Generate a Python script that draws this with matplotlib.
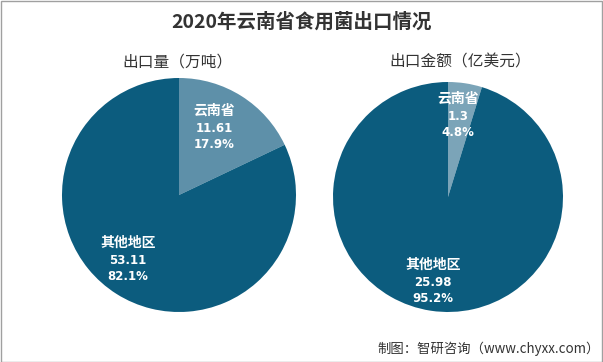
import matplotlib
matplotlib.use("Agg")
import matplotlib.pyplot as plt
from matplotlib.patches import Rectangle

plt.rcParams['font.family'] = ['Noto Sans CJK SC', 'DejaVu Sans']

title = "2020年云南省食用菌出口情况"
categories = ["云南省", "其他地区"]
volume = [11.61, 53.11]
volume_pct = ["17.9%", "82.1%"]
value = [1.3, 25.98]
value_pct = ["4.8%", "95.2%"]
subtitles = ["出口量（万吨）", "出口金额（亿美元）"]
source = "制图：智研咨询（www.chyxx.com）"

dark = "#0c5c7e"
W, H = 603, 362
fig = plt.figure(figsize=(W / 100, H / 100), dpi=100)
fig.patch.set_facecolor("white")

def add_pie(cx, cy, r, vals, pcts, label_pos, sub, sub_x, light):
    ax = fig.add_axes([(cx - r) / W, (H - cy - r) / H, 2 * r / W, 2 * r / H])
    ax.pie(vals, colors=[light, dark], startangle=90, counterclock=False, radius=1,
           wedgeprops=dict(linewidth=0))
    ax.set_xlim(-1, 1); ax.set_ylim(-1, 1)
    ax.set_aspect("auto")
    ax.axis("off")
    for cat, v, p, (lx, ly) in zip(categories, vals, pcts, label_pos):
        fx = lx / W; fy = 1 - ly / H
        fig.text(fx, fy, cat, color="white", fontsize=10, fontweight="bold",
                 ha="center", va="center", zorder=10)
        fig.text(fx, fy - 17 / H, f"{v:g}", color="white", fontsize=8.5, fontweight="bold",
                 ha="center", va="center", family="DejaVu Sans", zorder=10)
        fig.text(fx, fy - 33 / H, p, color="white", fontsize=8.5, fontweight="bold",
                 ha="center", va="center", family="DejaVu Sans", zorder=10)
    fig.text(sub_x / W, 1 - 62 / H, sub, fontsize=11.3, color="#333333", ha="center", va="center")

add_pie(179, 195, 117, volume, volume_pct, [(214, 111), (128, 243)], subtitles[0], 178, "#5e90a9")
add_pie(448, 197, 115, value, value_pct, [(458, 99), (433, 265)], subtitles[1], 460, "#7ba4b8")

fig.text(0.5, 1 - 22 / H, title, fontsize=14, fontweight="bold", color="#333333",
         ha="center", va="center")
fig.text(600 / W, 1 - 349 / H, source, fontsize=9.6, color="#333333", ha="right", va="center")

fig.add_artist(Rectangle((0.5 / W, 0.5 / H), 1 - 1.5 / W, 1 - 1.5 / H, transform=fig.transFigure,
                         fill=False, edgecolor="#a0a0a0", linewidth=1))

fig.savefig("out.png", dpi=100)
